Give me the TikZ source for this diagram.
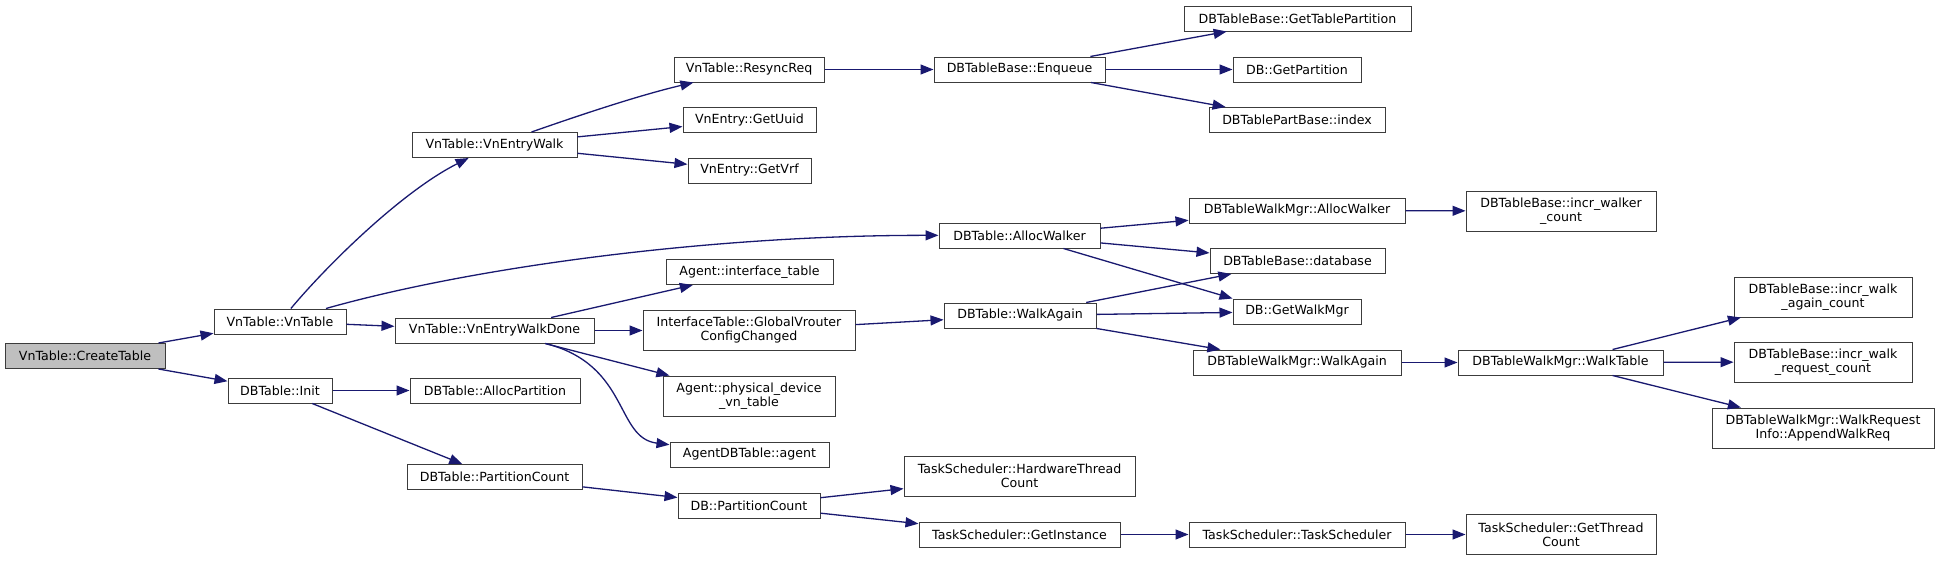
\documentclass[tikz,border=0pt]{standalone}
\usepackage{fontspec}
\setmainfont{DejaVu Sans}
\usepackage{xcolor}
\usepackage{tikz}
\usetikzlibrary{arrows.meta}
\definecolor{EdgeBlue}{HTML}{191970}
\definecolor{BoxLine}{HTML}{3C3C3C}
\definecolor{RootGray}{HTML}{BFBFBF}
\tikzset{
  fnbox/.style={draw=BoxLine,fill=white,line width=1pt,inner sep=0pt,
    align=center,minimum height=25pt,font=\fontsize{12.6}{14}\selectfont},
  twoline/.style={fnbox,minimum height=40pt},
  rootbox/.style={fnbox,fill=RootGray},
  call/.style={-{Triangle[length=13pt,width=10pt]},line width=1.3pt,draw=EdgeBlue}
}
\begin{document}
\begin{tikzpicture}[x=1pt,y=-1pt]
  \fill[white] (0,0) rectangle (1941,560);
  \useasboundingbox (0,0) rectangle (1941,560);
  \node[rootbox,minimum width=160pt] (createTable) at (85,356) {VnTable::CreateTable};
  \node[fnbox,minimum width=132pt] (vnTable) at (280,321.5) {VnTable::VnTable};
  \node[fnbox,minimum width=104pt] (dbInit) at (280,390.5) {DBTable::Init};
  \node[fnbox,minimum width=165pt] (vnEntryWalk) at (494.5,145) {VnTable::VnEntryWalk};
  \node[fnbox,minimum width=199pt] (vnEntryWalkDone) at (494.5,330.5) {VnTable::VnEntryWalkDone};
  \node[fnbox,minimum width=170pt] (allocPartition) at (495,390.5) {DBTable::AllocPartition};
  \node[fnbox,minimum width=175pt] (tablePartCount) at (494.5,477) {DBTable::PartitionCount};
  \node[fnbox,minimum width=150pt] (resyncReq) at (749,69.5) {VnTable::ResyncReq};
  \node[fnbox,minimum width=133pt] (getUuid) at (749.5,120) {VnEntry::GetUuid};
  \node[fnbox,minimum width=123pt] (getVrf) at (749.5,170.5) {VnEntry::GetVrf};
  \node[fnbox,minimum width=167pt] (ifTable) at (749.5,272) {Agent::interface\_table};
  \node[twoline,minimum width=212pt] (vrouterChanged) at (749,330.5) {InterfaceTable::GlobalVrouter\\ConfigChanged};
  \node[twoline,minimum width=172pt] (physDevTable) at (749,396) {Agent::physical\_device\\\_vn\_table};
  \node[fnbox,minimum width=159pt] (agentOf) at (749.5,454.5) {AgentDBTable::agent};
  \node[fnbox,minimum width=142pt] (dbPartCount) at (749,505.5) {DB::PartitionCount};
  \node[fnbox,minimum width=171pt] (enqueue) at (1019.5,69.5) {DBTableBase::Enqueue};
  \node[fnbox,minimum width=161pt] (allocWalker) at (1019.5,235.5) {DBTable::AllocWalker};
  \node[fnbox,minimum width=152pt] (walkAgain) at (1020,315.5) {DBTable::WalkAgain};
  \node[twoline,minimum width=231pt] (hwThreads) at (1019.5,476) {TaskScheduler::HardwareThread\\Count};
  \node[fnbox,minimum width=201pt] (getInstance) at (1019.5,534.5) {TaskScheduler::GetInstance};
  \node[fnbox,minimum width=227pt] (tablePartition) at (1297.5,18.5) {DBTableBase::GetTablePartition};
  \node[fnbox,minimum width=128pt] (getPartition) at (1297,69.5) {DB::GetPartition};
  \node[fnbox,minimum width=176pt] (partIndex) at (1297,120) {DBTablePartBase::index};
  \node[fnbox,minimum width=216pt] (mgrAllocWalker) at (1297,210.5) {DBTableWalkMgr::AllocWalker};
  \node[fnbox,minimum width=175pt] (database) at (1297.5,261) {DBTableBase::database};
  \node[fnbox,minimum width=128pt] (getWalkMgr) at (1297,311.5) {DB::GetWalkMgr};
  \node[fnbox,minimum width=208pt] (mgrWalkAgain) at (1297,362.5) {DBTableWalkMgr::WalkAgain};
  \node[fnbox,minimum width=216pt] (scheduler) at (1297,534.5) {TaskScheduler::TaskScheduler};
  \node[twoline,minimum width=190pt] (walkerCount) at (1561,211) {DBTableBase::incr\_walker\\\_count};
  \node[fnbox,minimum width=205pt] (walkTable) at (1560.5,362.5) {DBTableWalkMgr::WalkTable};
  \node[twoline,minimum width=190pt] (threadCount) at (1561,534.5) {TaskScheduler::GetThread\\Count};
  \node[twoline,minimum width=178pt] (againCount) at (1823,297) {DBTableBase::incr\_walk\\\_again\_count};
  \node[twoline,minimum width=178pt] (requestCount) at (1823,362) {DBTableBase::incr\_walk\\\_request\_count};
  \node[twoline,minimum width=222pt] (appendReq) at (1823,428) {DBTableWalkMgr::WalkRequest\\Info::AppendWalkReq};

  \draw[call] (createTable) -- (vnTable);
  \draw[call] (createTable) -- (dbInit);
  \draw[call] (vnTable) .. controls (329,263) and (403,191) .. (vnEntryWalk);
  \draw[call] (vnTable) .. controls (480,265) and (720,235) .. (allocWalker);
  \draw[call] (vnTable) -- (vnEntryWalkDone);
  \draw[call] (dbInit) -- (allocPartition);
  \draw[call] (dbInit) -- (tablePartCount);
  \draw[call] (vnEntryWalk) .. controls (580,115) and (640,95) .. (resyncReq);
  \draw[call] (vnEntryWalk) -- (getUuid);
  \draw[call] (vnEntryWalk) -- (getVrf);
  \draw[call] (vnEntryWalkDone) -- (ifTable);
  \draw[call] (vnEntryWalkDone) -- (vrouterChanged);
  \draw[call] (vnEntryWalkDone) -- (physDevTable);
  \draw[call] (vnEntryWalkDone) .. controls (630,365) and (615,438) .. (agentOf);
  \draw[call] (tablePartCount) -- (dbPartCount);
  \draw[call] (resyncReq) -- (enqueue);
  \draw[call] (enqueue) -- (tablePartition);
  \draw[call] (enqueue) -- (getPartition);
  \draw[call] (enqueue) -- (partIndex);
  \draw[call] (allocWalker) -- (mgrAllocWalker);
  \draw[call] (allocWalker) -- (database);
  \draw[call] (allocWalker) -- (getWalkMgr.north west);
  \draw[call] (vrouterChanged) -- (walkAgain);
  \draw[call] (walkAgain) -- (database);
  \draw[call] (walkAgain) -- (getWalkMgr);
  \draw[call] (walkAgain) -- (mgrWalkAgain);
  \draw[call] (mgrAllocWalker) -- (walkerCount);
  \draw[call] (mgrWalkAgain) -- (walkTable);
  \draw[call] (walkTable) -- (againCount);
  \draw[call] (walkTable) -- (requestCount);
  \draw[call] (walkTable) -- (appendReq);
  \draw[call] (dbPartCount) -- (hwThreads);
  \draw[call] (dbPartCount) -- (getInstance);
  \draw[call] (getInstance) -- (scheduler);
  \draw[call] (scheduler) -- (threadCount);
\end{tikzpicture}
\end{document}
